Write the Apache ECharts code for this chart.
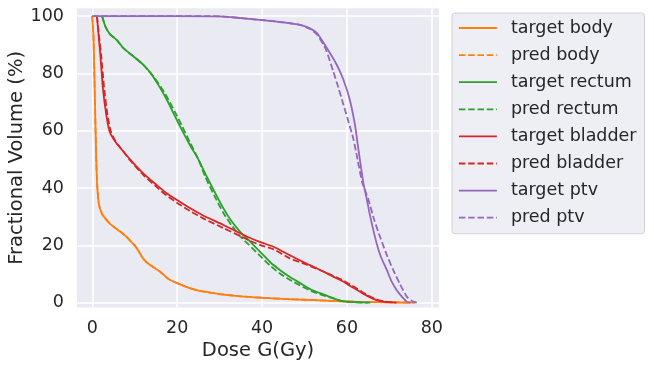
<!DOCTYPE html>
<html>
<head>
<meta charset="utf-8">
<script src="https://cdn.jsdelivr.net/npm/echarts@6/dist/echarts.min.js"></script>
<style>
  html, body { margin: 0; padding: 0; background: #ffffff; }
  #chart { width: 654px; height: 368px; }
</style>
</head>
<body>
<div id="chart"></div>
<script>
// dose (Gy), volume (%) pairs
const targetBody = [[0,100],[0.3,92],[0.6,72],[0.9,52],[1.2,40],[1.6,34],[2.3,31],[3,29.5],[4.2,27.5],[5.5,26],[6.6,24.8],[8,23],[9,21.5],[10,20],[10.8,18.3],[11.7,16],[12.5,14.5],[13.3,13.5],[14.5,12.3],[16,10.8],[18,8.2],[20,6.8],[22,5.6],[24,4.6],[26,3.9],[30,3],[35,2.2],[40,1.7],[45,1.3],[50,1],[55,0.7],[60,0.4],[65,0.2],[70,0.1],[76,0]];
const predBody = [[0,100],[0.3,92],[0.6,72],[0.9,52],[1.2,40],[1.6,34],[2.3,31],[3,29.5],[4.2,27.5],[5.5,26],[6.6,24.8],[8,23],[9,21.5],[10,20],[10.8,18.3],[11.7,16],[12.5,14.5],[13.3,13.5],[14.5,12.3],[16,10.8],[18,8.2],[20,6.8],[22,5.6],[24,4.6],[26,3.9],[30,3],[35,2.2],[40,1.7],[45,1.3],[50,1],[55,0.7],[60,0.4],[65,0.2],[70,0.1],[76,0]];
const targetRectum = [[2.3,100],[3.1,96.3],[4.2,93.6],[5.8,91.6],[7.4,88.7],[9.8,85.8],[12.1,82.9],[13.8,80],[15.6,75.9],[17.6,70.7],[19.5,65],[21.2,60],[23,55],[25,50],[26.6,45.1],[28.7,39],[30.9,32.9],[32.8,28.5],[34.8,24.8],[36.8,21.9],[39.9,17.2],[42,14],[44.2,11.4],[46.5,9],[49,6.8],[51.5,4.6],[53.7,3.3],[56,2],[59,0.5],[62,0.15],[65.5,0]];
const predRectum = [[2.3,100],[3.1,96.3],[4.2,93.6],[5.8,91.6],[7.4,88.7],[9.8,85.8],[12.1,82.9],[13.8,80],[15.6,76.5],[17.6,71.8],[19.5,66.5],[21.2,61.5],[23,56],[25,50],[26.6,44],[28.7,37.5],[30.9,31.3],[32.8,27],[34.8,23.2],[36.8,20.3],[39.9,15.8],[42,12.8],[44.2,10.2],[46.5,8],[49,6],[51.5,4.1],[53.7,2.9],[56,1.8],[59,0.5],[62,0.1],[65,0]];
const targetBladder = [[1.1,100],[1.5,93],[1.9,86.4],[2.5,74.8],[3.3,65.5],[4.1,59.6],[5.4,56.2],[7,53.3],[9,49.8],[12,45.1],[15.2,41],[17.5,38.2],[20,35.8],[23,33],[26,30.5],[30.9,27.1],[33.8,25],[36.8,22.8],[39.8,21],[42.7,19.5],[46.6,16.5],[49.5,14.3],[51.3,13.1],[53.7,11.4],[55.2,10.3],[57,8.9],[59.2,7.3],[61,5.6],[63.1,3.8],[65,2.2],[67,0.9],[69,0.3],[71.7,0]];
const predBladder = [[1.1,100],[1.6,93],[2.1,86.4],[2.8,74.8],[3.6,65.5],[4.4,59.6],[5.6,56],[7.2,53],[9,49.5],[12,44.6],[15.2,40.3],[17.5,37.4],[20,34.8],[23,32],[26,29.5],[30.9,26],[33.8,24],[36.8,21.8],[39.8,20],[42.7,18.6],[46.6,15.4],[49.5,13.8],[51.3,12.8],[53.7,11.3],[55.2,10.4],[57,9.2],[59.2,7.7],[61,6.1],[63.1,4.2],[65,2.5],[67,1.1],[69,0.4],[71.5,0]];
const targetPtv = [[0,100],[10,100],[20,100],[30,99.9],[35,99.3],[40,98.6],[45,97.8],[49,96.9],[51.3,95.7],[53,94],[55.2,89],[57.6,83],[59.2,77.7],[60.7,70.7],[61.9,62],[62.7,53.6],[63.9,41.6],[64.7,36],[65.5,30],[67,20.7],[68,16],[69.4,11.4],[70.5,7.5],[71.7,4.4],[73,2],[74.1,0.35],[75,0]];
const predPtv = [[0,100],[10,100],[20,100],[30,99.9],[35,99.3],[40,98.6],[45,97.8],[49,96.9],[51.3,95.5],[53,93.5],[55,88.5],[56.8,80.6],[58,75],[59.2,69],[60.4,63],[61.5,57.3],[62.5,50],[63.6,42],[65.1,35.8],[66.4,29],[67.8,23],[69.3,17],[70.9,11.4],[72.5,6.5],[74.1,2.1],[75.3,0.6],[76.5,0]];

const seriesNames = ['target body', 'pred body', 'target rectum', 'pred rectum', 'target bladder', 'pred bladder', 'target ptv', 'pred ptv'];
const seriesData = [targetBody, predBody, targetRectum, predRectum, targetBladder, predBladder, targetPtv, predPtv];
const seriesColors = ['#ff7f0e', '#ff7f0e', '#2ca02c', '#2ca02c', '#d62728', '#d62728', '#9467bd', '#9467bd'];
const xTicks = [0, 20, 40, 60, 80];
const yTicks = [0, 20, 40, 60, 80, 100];

const textColor = '#262626';
const font = 'DejaVu Sans';

let chart = echarts.init(document.getElementById('chart'), null, { renderer: 'canvas' });
let option = {
  animation: false,
  textStyle: { fontFamily: font },
  grid: {
    left: 77, top: 8.3, width: 362, height: 299.2,
    outerBoundsMode: 'none',
    show: true, backgroundColor: '#eaeaf2', borderWidth: 0
  },
  legend: {
    orient: 'vertical',
    left: 452,
    top: 13,
    itemWidth: 38,
    itemHeight: 20,
    itemGap: 7.1,
    padding: [5, 8, 6, 6],
    backgroundColor: '#eeeef5',
    borderColor: '#d0d0d6',
    borderWidth: 1,
    borderRadius: 3,
    itemStyle: { opacity: 0 },
    lineStyle: { width: 1.8 },
    textStyle: { color: textColor, fontSize: 17.5, fontFamily: font, lineHeight: 20, padding: [0, 0, 0, 9] },
    data: seriesNames
  },
  xAxis: {
    type: 'value',
    min: -3.6,
    max: 81.7,
    name: 'Dose G(Gy)',
    nameLocation: 'middle',
    nameGap: 33,
    nameMoveOverlap: false,
    nameTextStyle: { color: textColor, fontSize: 19.5, fontFamily: font },
    axisLine: { show: false, onZero: false },
    axisTick: { show: false, customValues: xTicks },
    axisLabel: { customValues: xTicks, color: textColor, fontSize: 17.5, fontFamily: font, margin: 12 },
    splitLine: { show: true, lineStyle: { color: '#ffffff', width: 1.5 } }
  },
  yAxis: {
    type: 'value',
    min: -1.7,
    max: 102.7,
    name: 'Fractional Volume (%)',
    nameLocation: 'middle',
    nameGap: 50.5,
    nameMoveOverlap: false,
    nameTextStyle: { color: textColor, fontSize: 19.5, fontFamily: font },
    axisLine: { show: false, onZero: false },
    axisTick: { show: false, customValues: yTicks },
    axisLabel: { customValues: yTicks, color: textColor, fontSize: 17.5, fontFamily: font, margin: 13 },
    splitLine: { show: true, lineStyle: { color: '#ffffff', width: 1.5 } }
  },
  series: seriesNames.map((name, i) => ({
    name: name,
    type: 'line',
    data: seriesData[i],
    symbol: 'none',
    smooth: 0.2,
    color: seriesColors[i],
    lineStyle: { color: seriesColors[i], width: 1.8, type: i % 2 === 1 ? [6.5, 2.8] : 'solid' },
    z: 2 + i
  }))
};
chart.setOption(option);
</script>
</body>
</html>
